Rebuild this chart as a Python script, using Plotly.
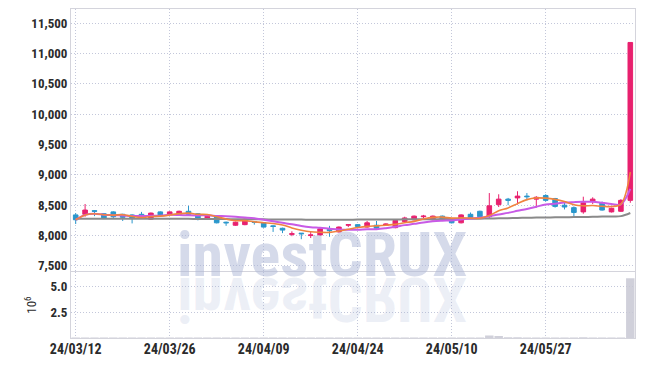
import plotly.graph_objects as go
from plotly.subplots import make_subplots
import pandas as pd

dates = ["24/03/12","24/03/13","24/03/14","24/03/15","24/03/18","24/03/19","24/03/20","24/03/21","24/03/22","24/03/25",
         "24/03/26","24/03/27","24/03/28","24/03/29","24/04/01","24/04/02","24/04/03","24/04/04","24/04/05","24/04/08",
         "24/04/09","24/04/11","24/04/12","24/04/15","24/04/16","24/04/17","24/04/18","24/04/19","24/04/22","24/04/23",
         "24/04/24","24/04/25","24/04/26","24/04/29","24/04/30","24/05/02","24/05/03","24/05/07","24/05/08","24/05/09",
         "24/05/10","24/05/13","24/05/14","24/05/16","24/05/17","24/05/20","24/05/21","24/05/22","24/05/23","24/05/24",
         "24/05/27","24/05/28","24/05/29","24/05/30","24/05/31","24/06/03","24/06/04","24/06/05","24/06/07","24/06/10"]

opens = [8340,8350,8410,8360,8390,8350,8340,8350,8270,8390,
         8350,8350,8400,8360,8270,8310,8220,8170,8180,8230,
         8210,8160,8120,8020,8040,8000,8010,8100,8060,8170,
         8180,8140,8170,8170,8130,8230,8260,8310,8260,8320,
         8270,8210,8350,8400,8310,8510,8600,8620,8650,8600,
         8660,8610,8500,8460,8390,8560,8540,8390,8400,8580]
highs = [8370,8520,8420,8370,8400,8360,8350,8390,8380,8400,
         8400,8410,8490,8370,8330,8320,8230,8230,8280,8240,
         8220,8170,8130,8070,8040,8060,8120,8160,8150,8190,
         8190,8240,8240,8200,8250,8310,8330,8340,8330,8330,
         8280,8350,8380,8410,8700,8680,8620,8730,8700,8650,
         8680,8620,8540,8480,8640,8630,8560,8460,8600,11180]
lows = [8190,8310,8320,8270,8280,8240,8200,8300,8260,8320,
        8340,8340,8340,8250,8260,8200,8160,8160,8170,8180,
        8130,8060,8040,7990,7940,7960,8000,7980,8050,8140,
        8140,8130,8110,8160,8120,8220,8250,8280,8250,8260,
        8200,8200,8290,8300,8290,8470,8500,8510,8580,8460,
        8560,8460,8430,8320,8360,8520,8410,8380,8390,8540]
closes = [8260,8420,8400,8290,8310,8300,8280,8310,8370,8340,
          8390,8400,8350,8270,8320,8210,8210,8220,8270,8220,
          8140,8150,8090,8030,8030,8010,8110,8080,8140,8180,
          8150,8210,8120,8190,8250,8290,8320,8320,8320,8270,
          8210,8340,8300,8310,8490,8600,8580,8650,8640,8630,
          8580,8480,8470,8380,8540,8600,8420,8450,8580,11180]
ma60 = [8275,8276,8276,8277,8277,8277,8277,8276,8276,8276,
        8276,8275,8275,8274,8273,8272,8271,8270,8269,8268,
        8267,8266,8265,8264,8263,8262,8262,8262,8262,8262,
        8263,8263,8264,8265,8266,8267,8268,8269,8270,8271,
        8272,8274,8276,8278,8281,8284,8287,8290,8293,8296,
        8298,8300,8302,8304,8306,8309,8312,8315,8320,8372]
volumes = [0.05,0.06,0.04,0.05,0.04,0.04,0.05,0.04,0.05,0.04,
           0.04,0.05,0.06,0.05,0.04,0.05,0.04,0.04,0.05,0.04,
           0.05,0.05,0.06,0.06,0.05,0.05,0.05,0.04,0.04,0.04,
           0.04,0.05,0.04,0.04,0.06,0.05,0.05,0.04,0.04,0.04,
           0.05,0.06,0.05,0.06,0.25,0.2,0.08,0.07,0.06,0.05,
           0.05,0.06,0.05,0.06,0.07,0.05,0.05,0.04,0.06,5.75]
tick_every = 10

close_s = pd.Series(closes)
ma5 = close_s.rolling(5, min_periods=1).mean()
ma10 = close_s.rolling(10, min_periods=1).mean()

FONT = "Roboto Condensed, DejaVu Sans Condensed, sans-serif"
UP = "#e8206e"
DOWN = "#2b97cc"
GRID = "#c3c7da"
FRAME = "#d4d4dc"
DOTS = "1px,2px"

fig = make_subplots(rows=2, cols=1, shared_xaxes=True, vertical_spacing=0.0)

fig.add_trace(go.Candlestick(
    x=dates, open=opens, high=highs, low=lows, close=closes,
    increasing=dict(line=dict(color=UP, width=1), fillcolor=UP),
    decreasing=dict(line=dict(color=DOWN, width=1), fillcolor=DOWN),
    whiskerwidth=0, showlegend=False, hoverinfo="skip"), row=1, col=1)
fig.add_trace(go.Scatter(x=dates, y=ma60, mode="lines", line=dict(color="#8a8a8a", width=2, shape="spline"),
                         showlegend=False, hoverinfo="skip"), row=1, col=1)
fig.add_trace(go.Scatter(x=dates, y=ma10, mode="lines", line=dict(color="#c85ae6", width=2, shape="spline"),
                         showlegend=False, hoverinfo="skip"), row=1, col=1)
fig.add_trace(go.Scatter(x=dates, y=ma5, mode="lines", line=dict(color="#f0843f", width=1.6, shape="spline"),
                         showlegend=False, hoverinfo="skip"), row=1, col=1)
fig.add_trace(go.Bar(x=dates, y=volumes, marker=dict(color="rgba(200,200,212,0.85)", line=dict(width=0)),
                     width=0.9, showlegend=False, hoverinfo="skip"), row=2, col=1)

ytickfont = dict(family=FONT, size=13, color="#2b2b2b", weight="bold")
xtickfont = dict(family=FONT, size=14, color="#2b2b2b", weight="bold")
common_x = dict(type="category", range=[-0.5, 59.5], autorange=False, showgrid=True, gridcolor=GRID,
                griddash=DOTS, gridwidth=1, tickvals=dates[::tick_every], showline=True, linecolor=FRAME,
                mirror=True, zeroline=False, rangeslider=dict(visible=False), tickfont=xtickfont,
                automargin=False, ticklabelstandoff=-2)
fig.update_layout(
    width=645, height=366,
    margin=dict(l=71, r=10, t=9, b=28),
    paper_bgcolor="white", plot_bgcolor="white",
    boxgap=0.3,
    xaxis=dict(common_x, showticklabels=False),
    xaxis2=dict(common_x, showticklabels=True),
    yaxis=dict(domain=[0.203, 1.0], range=[7413, 11731], autorange=False, dtick=500, tickformat=",",
               showgrid=True, gridcolor=GRID, griddash=DOTS, showline=True, linecolor=FRAME, mirror=True,
               zeroline=False, tickfont=ytickfont, automargin=False),
    yaxis2=dict(domain=[0.0, 0.2], range=[0, 6.33], autorange=False, tickvals=[2.5, 5.0], tickformat=".1f",
                showgrid=True, gridcolor=GRID, griddash=DOTS, showline=True, linecolor=FRAME, mirror=True,
                zeroline=False, tickfont=ytickfont, automargin=False,
                title=dict(text="10<sup>6</sup>", font=dict(family=FONT, size=13, color="#2b2b2b"), standoff=10)),
    bargap=0.1,
)

fig.add_annotation(text="investCRUX", xref="paper", yref="paper", x=0.445, y=0.255, xanchor="center",
                   yanchor="middle", showarrow=False,
                   font=dict(family=FONT, size=62, color="rgba(172,182,214,0.5)", weight="bold"))
fig.add_annotation(text="investCRUX", xref="paper", yref="paper", x=0.445, y=0.118, xanchor="center",
                   yanchor="middle", showarrow=False,
                   font=dict(family=FONT, size=62, color="rgba(172,182,214,0.22)", weight="bold"))

post = """
document.body.style.margin = '0';
document.body.style.padding = '0';
var gd = document.getElementsByClassName('plotly-graph-div')[0];
function flipWm(){
  var el = gd.querySelector('g.annotation[data-index="1"] text.annotation-text');
  if(el){ el.style.transformBox='fill-box'; el.style.transformOrigin='center'; el.style.transform='scaleY(-1)'; }
}
flipWm();
gd.on('plotly_afterplot', flipWm);
"""
fig.write_html("out.html", post_script=post, config={"displayModeBar": False})
